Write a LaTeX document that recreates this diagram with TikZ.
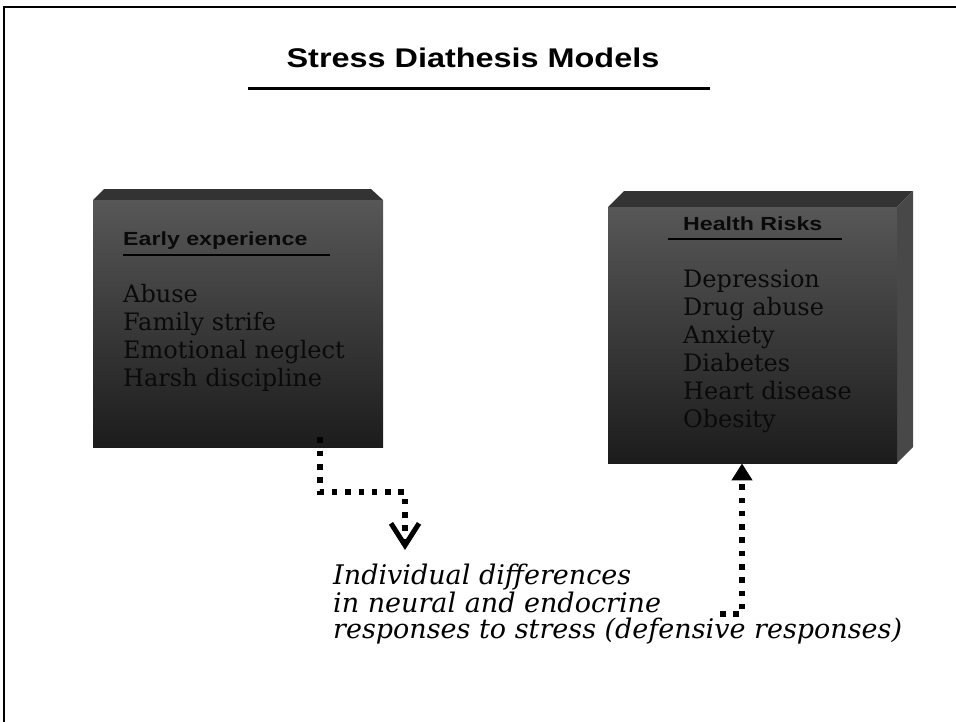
\documentclass[tikz,border=0pt]{standalone}
\usepackage{fontspec}
\setmainfont{DejaVu Serif}
\newfontfamily\hsans{Liberation Sans}
\usetikzlibrary{arrows.meta}
\definecolor{topface}{HTML}{333333}
\definecolor{sideface}{HTML}{484848}
\definecolor{facetop}{HTML}{575757}
\definecolor{facebot}{HTML}{1C1C1C}
\definecolor{ink}{HTML}{0A0A0A}
\tikzset{
  front/.style={rectangle, inner sep=0pt, top color=facetop, bottom color=facebot, draw=none},
  titletext/.style={font=\hsans\bfseries\fontsize{27}{30}\selectfont, inner sep=0pt},
  headtext/.style={font=\hsans\bfseries\fontsize{19}{22}\selectfont, text=ink, inner sep=0pt},
  listtext/.style={font=\fontsize{24}{28}\selectfont, text=ink, align=left, inner sep=0pt},
  ittext/.style={font=\itshape\fontsize{27}{26}\selectfont, align=left, inner sep=0pt},
  dotline/.style={line width=5.5pt, dash pattern=on 5.5pt off 7.8pt, line cap=butt},
  rule/.style={line width=2.5pt}
}
\begin{document}
\begin{tikzpicture}[x=1pt,y=-1pt]
\useasboundingbox (0,0) rectangle (956,721);
\draw[line width=2pt] (4,7) rectangle (1000,800);
% title
\node[titletext, anchor=base] (title) at (473,67) {\scalebox{1.2}[1]{Stress Diathesis Models}};
\draw[line width=3pt] (248,88) -- (710,88);
% left box
\fill[topface] (93,200) -- (104,189) -- (371,189) -- (383,200) -- cycle;
\node[front, minimum width=290pt, minimum height=247pt, anchor=north west] (early) at (93,200) {};
\node[headtext, anchor=base west] (earlyhead) at (123,245) {\scalebox{1.22}[1]{Early experience}};
\draw[rule] (123,255) -- (330,255);
\node[listtext, anchor=north west] (earlylist) at (123,284) {Abuse\\Family strife\\Emotional neglect\\Harsh discipline};
% right box
\fill[topface] (608,207) -- (624,191) -- (913,191) -- (897,207) -- cycle;
\fill[sideface] (897,207) -- (913,191) -- (913,447) -- (897,463) -- cycle;
\node[front, minimum width=289pt, minimum height=256pt, anchor=north west] (risks) at (608,207) {};
\node[headtext, anchor=base west] (riskshead) at (683,230) {\scalebox{1.22}[1]{Health Risks}};
\draw[rule] (668,239) -- (842,239);
\node[listtext, anchor=north west] (riskslist) at (683,270) {Depression\\Drug abuse\\Anxiety\\Diabetes\\Heart disease\\Obesity};
% bottom text (base anchor = last line's baseline)
\node[ittext, anchor=base west] (diff) at (333,638) {Individual differences\\in neural and endocrine\\responses to stress (defensive responses)};
% connectors
\coordinate (bendL) at (405,492);
\coordinate (tipL) at (405,550);
\draw[dotline, -{Straight Barb[length=22pt,width=28pt,line width=5pt]}]
  ([xshift=227pt,yshift=10pt]early.south west) |- (bendL) -- (tipL);
\coordinate (startR) at (720,614);
\draw[dotline, -{Triangle[length=17pt,width=20pt]}]
  (startR) -| ([xshift=134pt]risks.south west);
\end{tikzpicture}
\end{document}
